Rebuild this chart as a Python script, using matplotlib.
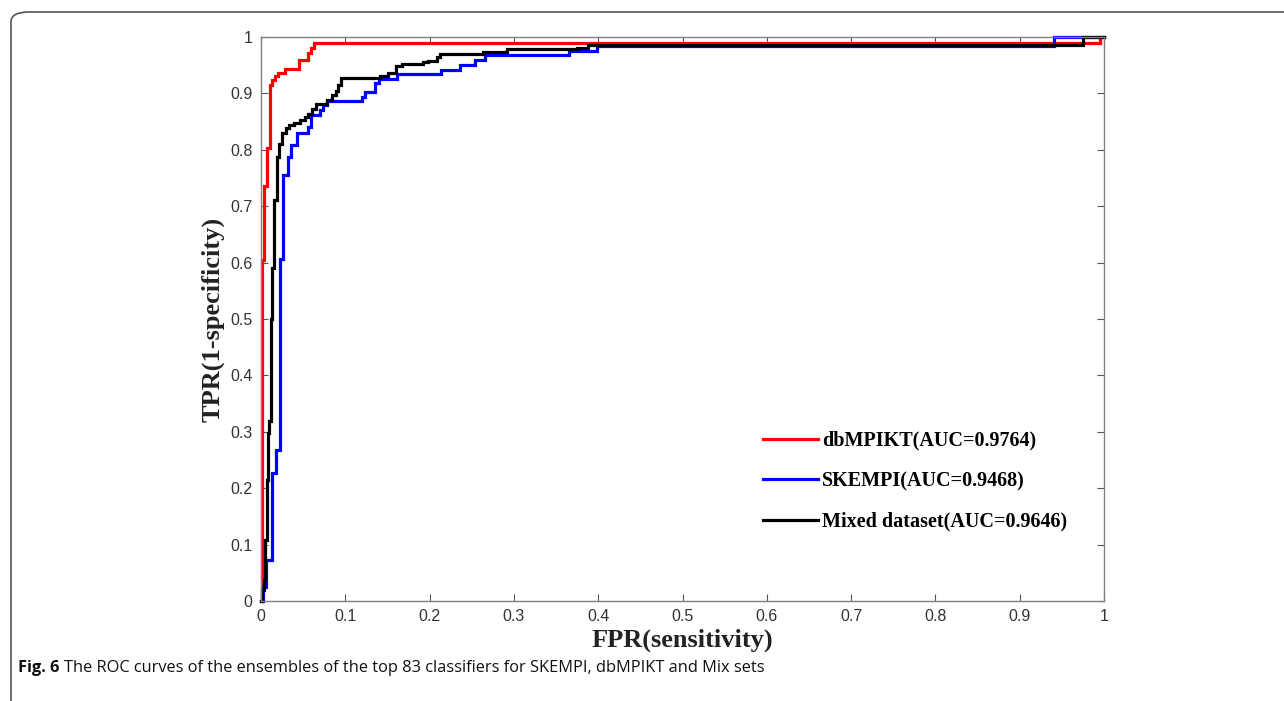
import matplotlib
matplotlib.use("Agg")
import matplotlib.pyplot as plt
from matplotlib.patches import FancyBboxPatch

# ---------------- data (ROC step vertices: fpr, tpr) ----------------
db_fpr = [0, 0.0015, 0.0036, 0.0067, 0.0107, 0.0134, 0.0166, 0.0198, 0.0285,
          0.045, 0.0554, 0.0593, 0.0633, 0.995, 1.0]
db_tpr = [0, 0.605, 0.735, 0.803, 0.915, 0.924, 0.930, 0.936, 0.943,
          0.960, 0.971, 0.980, 0.990, 1.0, 1.0]

sk_fpr = [0, 0.0025, 0.006, 0.0130, 0.0174, 0.0225, 0.0262, 0.0316, 0.0356,
          0.0423, 0.0554, 0.0593, 0.070, 0.0739, 0.0779, 0.1194, 0.123, 0.135,
          0.140, 0.161, 0.214, 0.236, 0.254, 0.266, 0.365, 0.398, 0.941, 1.0]
sk_tpr = [0, 0.025, 0.073, 0.227, 0.268, 0.607, 0.755, 0.788, 0.809,
          0.829, 0.841, 0.862, 0.870, 0.879, 0.887, 0.894, 0.903, 0.918,
          0.925, 0.934, 0.941, 0.950, 0.959, 0.968, 0.976, 0.984, 1.0, 1.0]

mx_fpr = [0, 0.0012, 0.0036, 0.0047, 0.0067, 0.0087, 0.0099, 0.0119, 0.0134,
          0.0160, 0.0190, 0.0214, 0.0253, 0.0293, 0.0332, 0.0395, 0.0463,
          0.0522, 0.0561, 0.0601, 0.0649, 0.0779, 0.0838, 0.0886, 0.0917,
          0.0949, 0.141, 0.151, 0.160, 0.167, 0.1925, 0.1985, 0.2084, 0.2123,
          0.2637, 0.2915, 0.3745, 0.388, 0.975, 1.0]
mx_tpr = [0, 0.020, 0.037, 0.108, 0.215, 0.297, 0.320, 0.500, 0.590,
          0.711, 0.788, 0.811, 0.829, 0.839, 0.844, 0.848, 0.852,
          0.858, 0.864, 0.873, 0.882, 0.888, 0.897, 0.905, 0.915,
          0.927, 0.931, 0.936, 0.949, 0.952, 0.955, 0.957, 0.965, 0.969,
          0.974, 0.979, 0.981, 0.986, 1.0, 1.0]

labels = ["dbMPIKT(AUC=0.9764)", "SKEMPI(AUC=0.9468)", "Mixed dataset(AUC=0.9646)"]
colors = ["#ff0000", "#0000ff", "#000000"]
ticks = [0, 0.1, 0.2, 0.3, 0.4, 0.5, 0.6, 0.7, 0.8, 0.9, 1]
tick_labels = ["0", "0.1", "0.2", "0.3", "0.4", "0.5", "0.6", "0.7", "0.8", "0.9", "1"]
xlabel = "FPR(sensitivity)"
ylabel = "TPR(1-specificity)"
caption_bold = "Fig. 6"
caption_text = "The ROC curves of the ensembles of the top 83 classifiers for SKEMPI, dbMPIKT and Mix sets"

# ---------------- figure ----------------
W, H = 1284, 701
fig = plt.figure(figsize=(W / 100, H / 100), dpi=100)
fig.patch.set_facecolor("white")

# outer rounded frame (top + left edges visible)
frame = FancyBboxPatch((11 / W, -0.2), 1.3, (H - 12) / H + 0.2,
                       boxstyle="round,pad=0,rounding_size=0.014",
                       transform=fig.transFigure, fill=False,
                       edgecolor="#555555", linewidth=1.2, clip_on=False)
fig.patches.append(frame)

ax = fig.add_axes([261 / W, (H - 601) / H, (1104 - 261) / W, (601 - 37) / H])

series = [(db_fpr, db_tpr), (sk_fpr, sk_tpr), (mx_fpr, mx_tpr)]
for (fx, fy), c, lab in zip(series, colors, labels):
    ax.plot(fx, fy, drawstyle="steps-post", color=c, linewidth=2.3,
            label=lab, solid_joinstyle="miter", clip_on=False)

ax.set_xlim(0, 1)
ax.set_ylim(0, 1)
ax.set_xticks(ticks)
ax.set_yticks(ticks)
tick_font = ["Liberation Sans Narrow", "Liberation Sans", "DejaVu Sans"]
ax.set_xticklabels(tick_labels, family=tick_font, fontsize=11.5, color="#333333")
ax.set_yticklabels(tick_labels, family=tick_font, fontsize=11.5, color="#333333")
ax.tick_params(direction="in", top=True, right=True, length=5, width=0.8,
               color="#555555", pad=6)
for sp in ax.spines.values():
    sp.set_color("#808080")
    sp.set_linewidth(1.0)

serif = ["Liberation Serif", "DejaVu Serif"]
ax.set_xlabel(xlabel, family=serif, fontweight="bold", fontsize=19,
              color="#222222", labelpad=3)
ax.set_ylabel(ylabel, family=serif, fontweight="bold", fontsize=19,
              color="#222222", labelpad=4)

leg = ax.legend(loc="center left", bbox_to_anchor=(0.5955, 0.2125), frameon=False,
                prop={"family": serif, "weight": "bold", "size": 14.5},
                handlelength=2.75, handletextpad=0.2, labelspacing=1.02,
                borderpad=0, borderaxespad=0)

cap_y = 1 - 668.5 / H
t1 = fig.text(18 / W, cap_y, caption_bold, family=["Open Sans", "DejaVu Sans"],
              fontweight="bold", fontsize=11.8, va="center", ha="left", color="#111111")
fig.canvas.draw()
bb = t1.get_window_extent(renderer=fig.canvas.get_renderer())
fig.text((bb.x1 + 5) / W, cap_y, caption_text, family=["Open Sans", "DejaVu Sans"],
         fontsize=11.8, va="center", ha="left", color="#111111")

fig.savefig("out.png", dpi=100, facecolor="white")
